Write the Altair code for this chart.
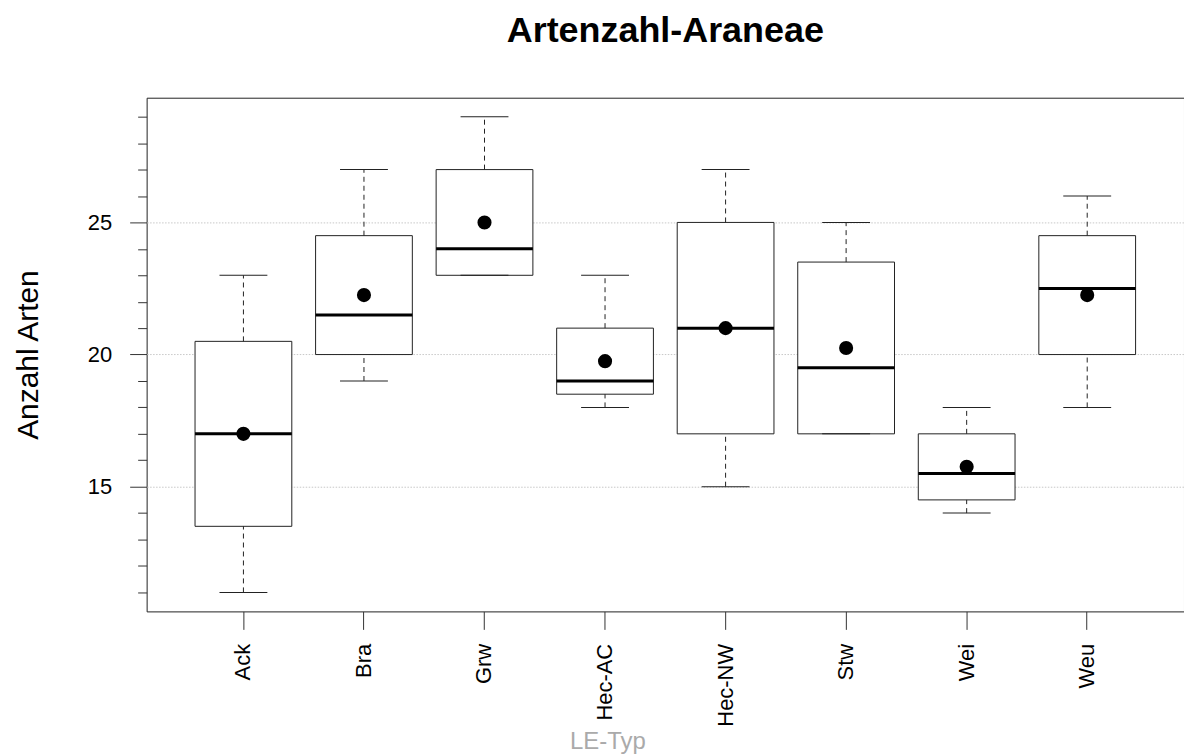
import altair as alt
import pandas as pd

categories = ["Ack", "Bra", "Grw", "Hec-AC", "Hec-NW", "Stw", "Wei", "Weu"]
whisk_lo = [11, 19, 23, 18, 15, 17, 14, 18]
q1 = [13.5, 20, 23, 18.5, 17, 17, 14.5, 20]
median = [17, 21.5, 24, 19, 21, 19.5, 15.5, 22.5]
q3 = [20.5, 24.5, 27, 21, 25, 23.5, 17, 24.5]
whisk_hi = [23, 27, 29, 23, 27, 25, 18, 26]
mean = [17, 22.25, 25, 19.75, 21, 20.25, 15.75, 22.25]
y_ticks = list(range(11, 30))
y_major = [15, 20, 25]

df = pd.DataFrame({
    "cat": categories, "lo": whisk_lo, "q1": q1, "med": median,
    "q3": q3, "hi": whisk_hi, "mean": mean,
})

major_test = "indexof([" + ",".join(str(v) for v in y_major) + "], datum.value) >= 0"

x_axis = alt.Axis(
    labelAngle=270, labelFontSize=22, labelColor="#000", labelPadding=14,
    tickSize=18, tickColor="#333", domain=False, grid=False,
    titleFontSize=24, titleColor="#aaaaaa", titleFontWeight="normal",
    titleX=462, titleY=137, titleBaseline="alphabetic", titleAnchor="start",
    titleAlign="center",
)
x_scale = alt.Scale(paddingOuter=0.303, paddingInner=0)

y_axis = alt.Axis(
    values=y_ticks,
    labelExpr=major_test + " ? datum.label : ''",
    tickSize={"condition": {"test": major_test, "value": 17}, "value": 9},
    gridOpacity={"condition": {"test": major_test, "value": 1}, "value": 0},
    grid=True, gridColor="#c8c8c8", gridDash=[1.5, 1.5], gridWidth=1,
    domain=False, labelFontSize=22, labelColor="#000", labelPadding=18,
    tickColor="#333",
    titleFontSize=30, titleFontWeight="normal", titleColor="#000",
    titleX=-118, titleY=257.5, titleAngle=270, titleBaseline="middle",
    titleAlign="center",
)
y_scale = alt.Scale(domain=[10.28, 29.72], nice=False, zero=False)


def X():
    return alt.X("cat:N", sort=categories, scale=x_scale, axis=x_axis, title="LE-Typ")


def Y(field):
    return alt.Y(field, type="quantitative", scale=y_scale, axis=y_axis, title="Anzahl Arten")


base = alt.Chart(df)
ink = "#222"

box = base.mark_bar(size=97, fill="white", stroke=ink, strokeWidth=1).encode(
    x=X(), y=Y("q1"), y2=alt.Y2("q3"))
w_hi = base.mark_rule(strokeDash=[5, 4], color=ink, strokeWidth=1).encode(
    x=X(), y=Y("q3"), y2=alt.Y2("hi"))
w_lo = base.mark_rule(strokeDash=[5, 4], color=ink, strokeWidth=1).encode(
    x=X(), y=Y("lo"), y2=alt.Y2("q1"))
cap_hi = base.mark_tick(size=48, thickness=1, color=ink, opacity=1).encode(x=X(), y=Y("hi"))
cap_lo = base.mark_tick(size=48, thickness=1, color=ink, opacity=1).encode(x=X(), y=Y("lo"))
med = base.mark_tick(size=97, thickness=3, color="#000", opacity=1).encode(x=X(), y=Y("med"))
mn = base.mark_circle(size=200, color="#000", opacity=1).encode(x=X(), y=Y("mean"))

chart = alt.layer(box, w_hi, w_lo, cap_hi, cap_lo, med, mn).properties(
    width=1040, height=515,
    autosize=alt.AutoSizeParams(type="none"),
    padding={"left": 147, "top": 97, "right": 0, "bottom": 143},
    title=alt.TitleParams(
        "Artenzahl-Araneae", fontSize=36, fontWeight="bold", anchor="middle",
        baseline="alphabetic", offset=20, color="#000",
    ),
).configure(font="Liberation Sans").configure_view(stroke=ink, strokeWidth=1)

chart.save("out.html", embed_options={"renderer": "svg", "actions": False})
